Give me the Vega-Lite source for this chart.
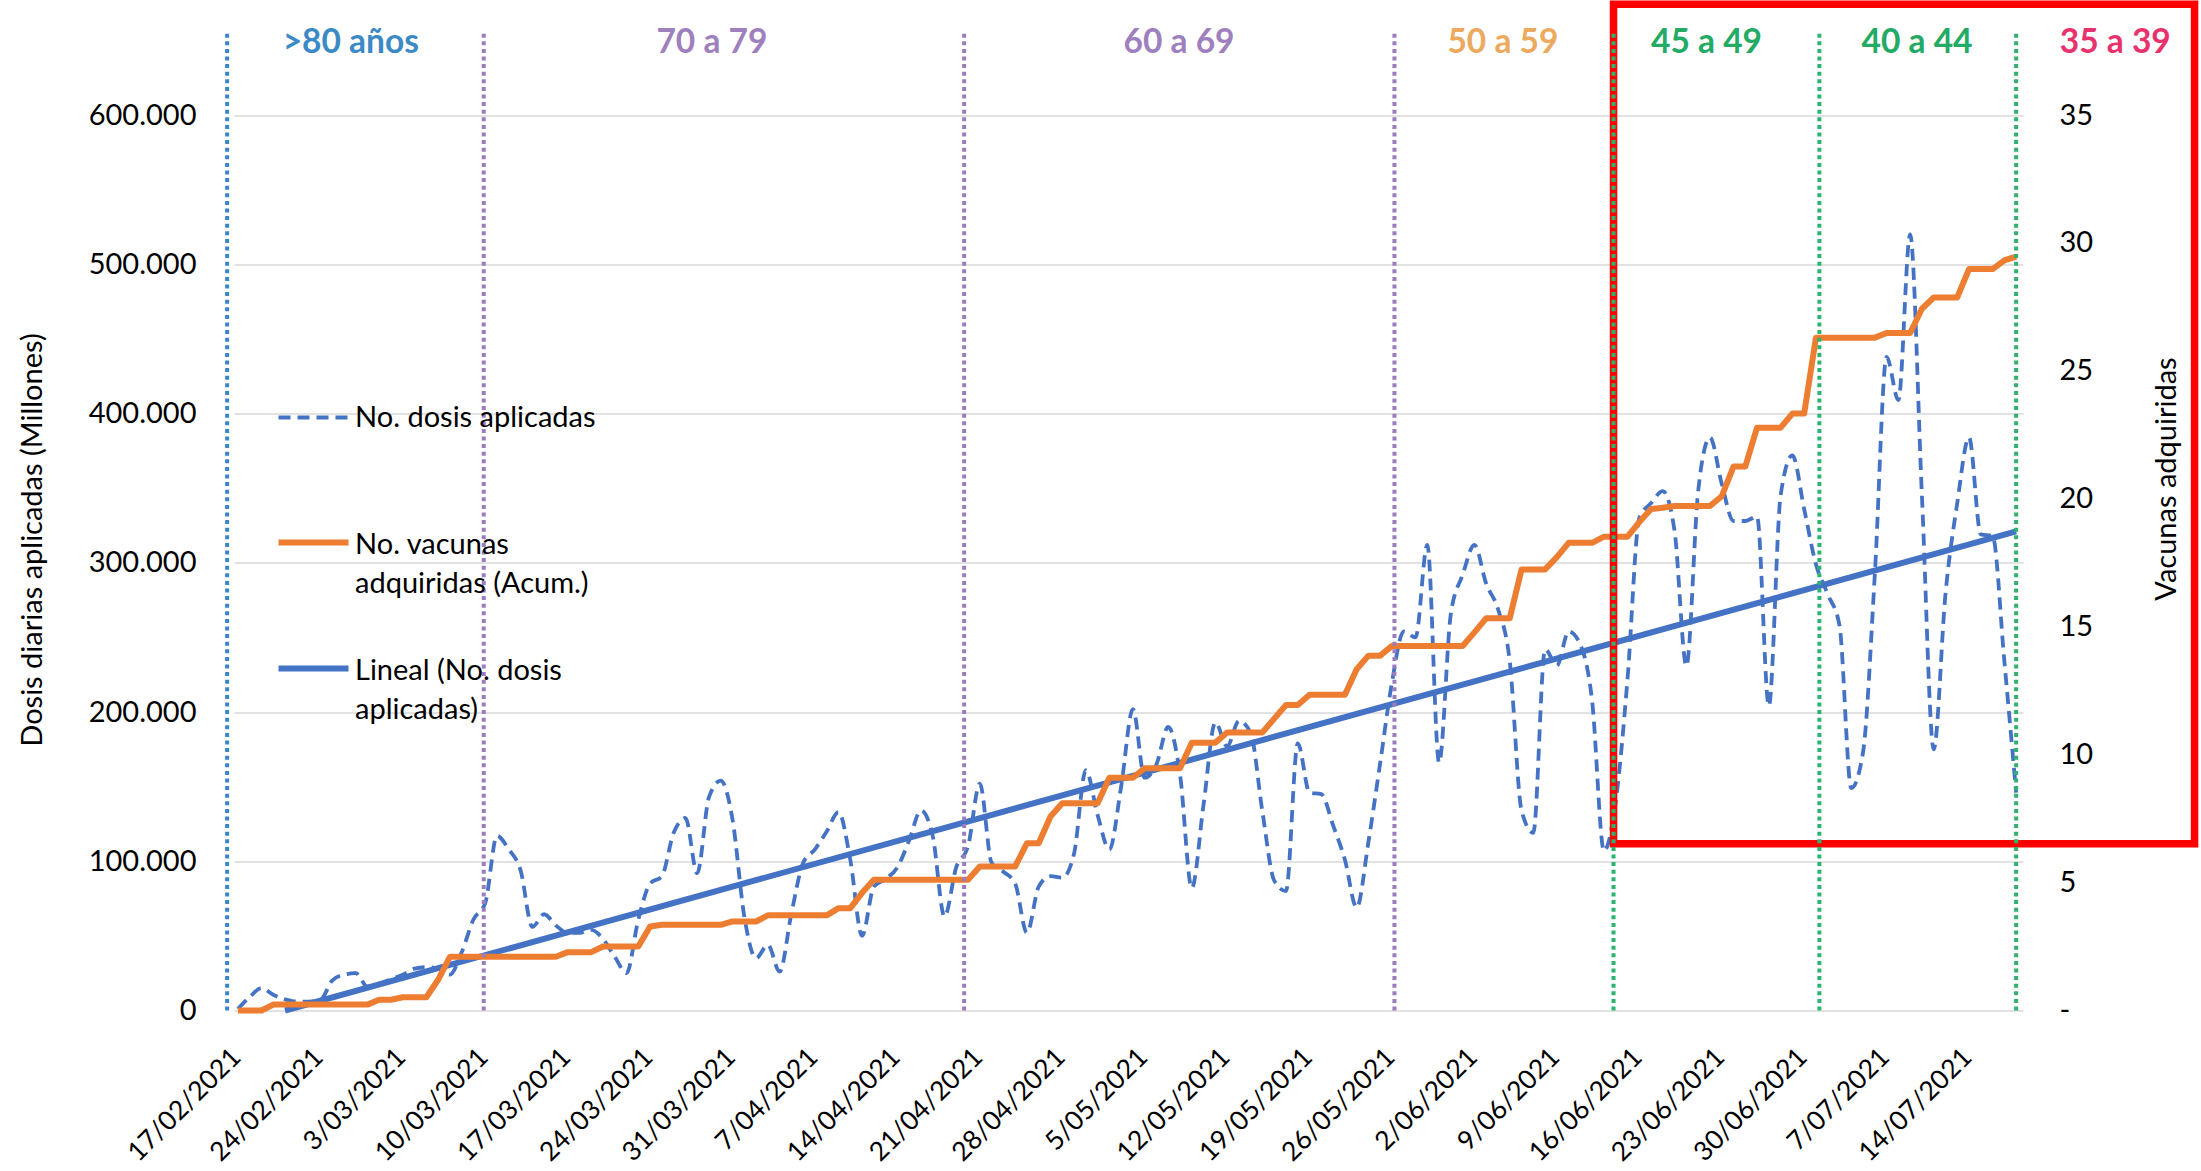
{
  "$schema": "https://vega.github.io/schema/vega-lite/v6.json",
  "width": 1789,
  "height": 985,
  "autosize": {"type": "none"},
  "padding": {"left": 234, "top": 25.5, "right": 178, "bottom": 160.5},
  "background": "#ffffff",
  "config": {
    "view": {"stroke": null},
    "font": "Lato",
    "axis": {"labelFont": "Lato", "labelFontSize": 29, "labelColor": "#000000", "titleFont": "Lato", "titleFontSize": 29, "titleFontWeight": "normal", "titleColor": "#000000", "domain": false, "ticks": false},
    "legend": {"labelFont": "Lato", "labelFontSize": 29, "labelColor": "#000000", "padding": 0, "symbolType": "stroke", "symbolSize": 4900, "labelLimit": 0}
  },
  "datasets": {
    "diario": [
      {"fecha": "2021-02-17T00:00", "dosis": 1000, "vacunas": 0},
      {"fecha": "2021-02-18T00:00", "dosis": 9000, "vacunas": 0},
      {"fecha": "2021-02-19T00:00", "dosis": 15000, "vacunas": 0},
      {"fecha": "2021-02-20T00:00", "dosis": 10500, "vacunas": 0.23},
      {"fecha": "2021-02-21T00:00", "dosis": 7500, "vacunas": 0.23},
      {"fecha": "2021-02-22T00:00", "dosis": 6000, "vacunas": 0.23},
      {"fecha": "2021-02-23T00:00", "dosis": 6000, "vacunas": 0.23},
      {"fecha": "2021-02-24T00:00", "dosis": 7000, "vacunas": 0.23},
      {"fecha": "2021-02-25T00:00", "dosis": 20000, "vacunas": 0.23},
      {"fecha": "2021-02-26T00:00", "dosis": 24000, "vacunas": 0.23},
      {"fecha": "2021-02-27T00:00", "dosis": 25000, "vacunas": 0.23},
      {"fecha": "2021-02-28T00:00", "dosis": 16000, "vacunas": 0.23},
      {"fecha": "2021-03-01T00:00", "dosis": 18000, "vacunas": 0.42},
      {"fecha": "2021-03-02T00:00", "dosis": 21000, "vacunas": 0.42},
      {"fecha": "2021-03-03T00:00", "dosis": 24000, "vacunas": 0.52},
      {"fecha": "2021-03-04T00:00", "dosis": 28000, "vacunas": 0.52},
      {"fecha": "2021-03-05T00:00", "dosis": 29000, "vacunas": 0.52},
      {"fecha": "2021-03-06T00:00", "dosis": 28000, "vacunas": 1.2},
      {"fecha": "2021-03-07T00:00", "dosis": 24000, "vacunas": 2.1},
      {"fecha": "2021-03-08T00:00", "dosis": 39000, "vacunas": 2.1},
      {"fecha": "2021-03-09T00:00", "dosis": 61000, "vacunas": 2.1},
      {"fecha": "2021-03-10T00:00", "dosis": 72000, "vacunas": 2.1},
      {"fecha": "2021-03-11T00:00", "dosis": 117000, "vacunas": 2.1},
      {"fecha": "2021-03-12T00:00", "dosis": 108000, "vacunas": 2.1},
      {"fecha": "2021-03-13T00:00", "dosis": 94000, "vacunas": 2.1},
      {"fecha": "2021-03-14T00:00", "dosis": 56000, "vacunas": 2.1},
      {"fecha": "2021-03-15T00:00", "dosis": 64500, "vacunas": 2.1},
      {"fecha": "2021-03-16T00:00", "dosis": 57000, "vacunas": 2.1},
      {"fecha": "2021-03-17T00:00", "dosis": 52000, "vacunas": 2.28},
      {"fecha": "2021-03-18T00:00", "dosis": 52000, "vacunas": 2.28},
      {"fecha": "2021-03-19T00:00", "dosis": 54000, "vacunas": 2.28},
      {"fecha": "2021-03-20T00:00", "dosis": 48000, "vacunas": 2.5},
      {"fecha": "2021-03-21T00:00", "dosis": 36000, "vacunas": 2.5},
      {"fecha": "2021-03-22T00:00", "dosis": 25000, "vacunas": 2.5},
      {"fecha": "2021-03-23T00:00", "dosis": 61000, "vacunas": 2.5},
      {"fecha": "2021-03-24T00:00", "dosis": 85000, "vacunas": 3.28},
      {"fecha": "2021-03-25T00:00", "dosis": 90000, "vacunas": 3.35},
      {"fecha": "2021-03-26T00:00", "dosis": 119000, "vacunas": 3.35},
      {"fecha": "2021-03-27T00:00", "dosis": 129000, "vacunas": 3.35},
      {"fecha": "2021-03-28T00:00", "dosis": 92000, "vacunas": 3.35},
      {"fecha": "2021-03-29T00:00", "dosis": 143000, "vacunas": 3.35},
      {"fecha": "2021-03-30T00:00", "dosis": 154000, "vacunas": 3.35},
      {"fecha": "2021-03-31T00:00", "dosis": 128000, "vacunas": 3.48},
      {"fecha": "2021-04-01T00:00", "dosis": 63000, "vacunas": 3.48},
      {"fecha": "2021-04-02T00:00", "dosis": 35000, "vacunas": 3.48},
      {"fecha": "2021-04-03T00:00", "dosis": 44000, "vacunas": 3.72},
      {"fecha": "2021-04-04T00:00", "dosis": 26000, "vacunas": 3.72},
      {"fecha": "2021-04-05T00:00", "dosis": 65000, "vacunas": 3.72},
      {"fecha": "2021-04-06T00:00", "dosis": 99000, "vacunas": 3.72},
      {"fecha": "2021-04-07T00:00", "dosis": 108000, "vacunas": 3.72},
      {"fecha": "2021-04-08T00:00", "dosis": 120000, "vacunas": 3.72},
      {"fecha": "2021-04-09T00:00", "dosis": 133000, "vacunas": 4.0},
      {"fecha": "2021-04-10T00:00", "dosis": 101000, "vacunas": 4.0},
      {"fecha": "2021-04-11T00:00", "dosis": 50000, "vacunas": 4.6},
      {"fecha": "2021-04-12T00:00", "dosis": 83000, "vacunas": 5.11},
      {"fecha": "2021-04-13T00:00", "dosis": 88000, "vacunas": 5.11},
      {"fecha": "2021-04-14T00:00", "dosis": 96000, "vacunas": 5.11},
      {"fecha": "2021-04-15T00:00", "dosis": 114000, "vacunas": 5.11},
      {"fecha": "2021-04-16T00:00", "dosis": 134000, "vacunas": 5.11},
      {"fecha": "2021-04-17T00:00", "dosis": 117000, "vacunas": 5.11},
      {"fecha": "2021-04-18T00:00", "dosis": 63000, "vacunas": 5.11},
      {"fecha": "2021-04-19T00:00", "dosis": 96000, "vacunas": 5.11},
      {"fecha": "2021-04-20T00:00", "dosis": 110000, "vacunas": 5.11},
      {"fecha": "2021-04-21T00:00", "dosis": 152000, "vacunas": 5.63},
      {"fecha": "2021-04-22T00:00", "dosis": 99000, "vacunas": 5.63},
      {"fecha": "2021-04-23T00:00", "dosis": 93000, "vacunas": 5.63},
      {"fecha": "2021-04-24T00:00", "dosis": 85000, "vacunas": 5.63},
      {"fecha": "2021-04-25T00:00", "dosis": 52000, "vacunas": 6.54},
      {"fecha": "2021-04-26T00:00", "dosis": 83000, "vacunas": 6.54},
      {"fecha": "2021-04-27T00:00", "dosis": 90000, "vacunas": 7.58},
      {"fecha": "2021-04-28T00:00", "dosis": 89000, "vacunas": 8.1},
      {"fecha": "2021-04-29T00:00", "dosis": 105000, "vacunas": 8.1},
      {"fecha": "2021-04-30T00:00", "dosis": 161000, "vacunas": 8.1},
      {"fecha": "2021-05-01T00:00", "dosis": 131000, "vacunas": 8.1},
      {"fecha": "2021-05-02T00:00", "dosis": 108000, "vacunas": 9.1},
      {"fecha": "2021-05-03T00:00", "dosis": 150000, "vacunas": 9.1},
      {"fecha": "2021-05-04T00:00", "dosis": 202000, "vacunas": 9.1},
      {"fecha": "2021-05-05T00:00", "dosis": 156000, "vacunas": 9.47},
      {"fecha": "2021-05-06T00:00", "dosis": 165000, "vacunas": 9.47},
      {"fecha": "2021-05-07T00:00", "dosis": 190000, "vacunas": 9.47},
      {"fecha": "2021-05-08T00:00", "dosis": 158000, "vacunas": 9.47},
      {"fecha": "2021-05-09T00:00", "dosis": 82000, "vacunas": 10.47},
      {"fecha": "2021-05-10T00:00", "dosis": 138000, "vacunas": 10.47},
      {"fecha": "2021-05-11T00:00", "dosis": 193000, "vacunas": 10.47},
      {"fecha": "2021-05-12T00:00", "dosis": 177000, "vacunas": 10.87},
      {"fecha": "2021-05-13T00:00", "dosis": 194000, "vacunas": 10.87},
      {"fecha": "2021-05-14T00:00", "dosis": 186000, "vacunas": 10.87},
      {"fecha": "2021-05-15T00:00", "dosis": 133000, "vacunas": 10.87},
      {"fecha": "2021-05-16T00:00", "dosis": 87000, "vacunas": 11.41},
      {"fecha": "2021-05-17T00:00", "dosis": 80000, "vacunas": 11.94},
      {"fecha": "2021-05-18T00:00", "dosis": 179000, "vacunas": 11.94},
      {"fecha": "2021-05-19T00:00", "dosis": 146000, "vacunas": 12.34},
      {"fecha": "2021-05-20T00:00", "dosis": 145000, "vacunas": 12.34},
      {"fecha": "2021-05-21T00:00", "dosis": 124000, "vacunas": 12.34},
      {"fecha": "2021-05-22T00:00", "dosis": 101000, "vacunas": 12.34},
      {"fecha": "2021-05-23T00:00", "dosis": 69000, "vacunas": 13.34},
      {"fecha": "2021-05-24T00:00", "dosis": 113000, "vacunas": 13.87},
      {"fecha": "2021-05-25T00:00", "dosis": 166000, "vacunas": 13.87},
      {"fecha": "2021-05-26T00:00", "dosis": 220000, "vacunas": 14.25},
      {"fecha": "2021-05-27T00:00", "dosis": 254000, "vacunas": 14.25},
      {"fecha": "2021-05-28T00:00", "dosis": 250000, "vacunas": 14.25},
      {"fecha": "2021-05-29T00:00", "dosis": 312000, "vacunas": 14.25},
      {"fecha": "2021-05-30T00:00", "dosis": 166000, "vacunas": 14.25},
      {"fecha": "2021-05-31T00:00", "dosis": 266000, "vacunas": 14.25},
      {"fecha": "2021-06-01T00:00", "dosis": 292000, "vacunas": 14.25},
      {"fecha": "2021-06-02T00:00", "dosis": 312000, "vacunas": 14.78},
      {"fecha": "2021-06-03T00:00", "dosis": 286000, "vacunas": 15.33},
      {"fecha": "2021-06-04T00:00", "dosis": 269000, "vacunas": 15.33},
      {"fecha": "2021-06-05T00:00", "dosis": 234000, "vacunas": 15.33},
      {"fecha": "2021-06-06T00:00", "dosis": 134000, "vacunas": 17.24},
      {"fecha": "2021-06-07T00:00", "dosis": 119000, "vacunas": 17.24},
      {"fecha": "2021-06-08T00:00", "dosis": 242000, "vacunas": 17.24},
      {"fecha": "2021-06-09T00:00", "dosis": 231000, "vacunas": 17.72},
      {"fecha": "2021-06-10T00:00", "dosis": 254000, "vacunas": 18.28},
      {"fecha": "2021-06-11T00:00", "dosis": 245000, "vacunas": 18.28},
      {"fecha": "2021-06-12T00:00", "dosis": 207000, "vacunas": 18.28},
      {"fecha": "2021-06-13T00:00", "dosis": 107000, "vacunas": 18.52},
      {"fecha": "2021-06-14T00:00", "dosis": 140000, "vacunas": 18.52},
      {"fecha": "2021-06-15T00:00", "dosis": 222000, "vacunas": 18.52},
      {"fecha": "2021-06-16T00:00", "dosis": 330000, "vacunas": 19.09},
      {"fecha": "2021-06-17T00:00", "dosis": 340000, "vacunas": 19.6},
      {"fecha": "2021-06-18T00:00", "dosis": 348000, "vacunas": 19.65},
      {"fecha": "2021-06-19T00:00", "dosis": 321000, "vacunas": 19.72},
      {"fecha": "2021-06-20T00:00", "dosis": 231000, "vacunas": 19.72},
      {"fecha": "2021-06-21T00:00", "dosis": 348000, "vacunas": 19.72},
      {"fecha": "2021-06-22T00:00", "dosis": 384000, "vacunas": 19.72},
      {"fecha": "2021-06-23T00:00", "dosis": 353000, "vacunas": 20.1},
      {"fecha": "2021-06-24T00:00", "dosis": 328000, "vacunas": 21.26},
      {"fecha": "2021-06-25T00:00", "dosis": 328000, "vacunas": 21.26},
      {"fecha": "2021-06-26T00:00", "dosis": 331000, "vacunas": 22.78},
      {"fecha": "2021-06-27T00:00", "dosis": 204000, "vacunas": 22.78},
      {"fecha": "2021-06-28T00:00", "dosis": 345000, "vacunas": 22.78},
      {"fecha": "2021-06-29T00:00", "dosis": 372000, "vacunas": 23.33},
      {"fecha": "2021-06-30T00:00", "dosis": 336000, "vacunas": 23.33},
      {"fecha": "2021-07-01T00:00", "dosis": 299000, "vacunas": 26.3},
      {"fecha": "2021-07-02T00:00", "dosis": 279000, "vacunas": 26.3},
      {"fecha": "2021-07-03T00:00", "dosis": 258000, "vacunas": 26.3},
      {"fecha": "2021-07-04T00:00", "dosis": 149000, "vacunas": 26.3},
      {"fecha": "2021-07-05T00:00", "dosis": 173000, "vacunas": 26.3},
      {"fecha": "2021-07-06T00:00", "dosis": 292000, "vacunas": 26.3},
      {"fecha": "2021-07-07T00:00", "dosis": 438000, "vacunas": 26.48},
      {"fecha": "2021-07-08T00:00", "dosis": 409000, "vacunas": 26.48},
      {"fecha": "2021-07-09T00:00", "dosis": 520000, "vacunas": 26.48},
      {"fecha": "2021-07-10T00:00", "dosis": 345000, "vacunas": 27.43},
      {"fecha": "2021-07-11T00:00", "dosis": 175000, "vacunas": 27.87},
      {"fecha": "2021-07-12T00:00", "dosis": 279000, "vacunas": 27.87},
      {"fecha": "2021-07-13T00:00", "dosis": 340000, "vacunas": 27.87},
      {"fecha": "2021-07-14T00:00", "dosis": 384000, "vacunas": 28.98},
      {"fecha": "2021-07-15T00:00", "dosis": 319000, "vacunas": 28.98},
      {"fecha": "2021-07-16T00:00", "dosis": 318000, "vacunas": 28.98},
      {"fecha": "2021-07-17T00:00", "dosis": 234000, "vacunas": 29.32},
      {"fecha": "2021-07-18T00:00", "dosis": 146000, "vacunas": 29.47}
    ],
    "tendencia": [
      {"fecha": "2021-02-21T00:00", "valor": 0},
      {"fecha": "2021-07-18T00:00", "valor": 321000}
    ],
    "limites": [
      {"fecha": "2021-02-16T02:00", "limite": "Inicio >80 años"},
      {"fecha": "2021-03-09T21:00", "limite": "Inicio 70 a 79"},
      {"fecha": "2021-04-19T16:00", "limite": "Inicio 60 a 69"},
      {"fecha": "2021-05-26T05:00", "limite": "Inicio 50 a 59"},
      {"fecha": "2021-06-13T19:30", "limite": "Inicio 45 a 49"},
      {"fecha": "2021-07-01T07:00", "limite": "Inicio 40 a 44"},
      {"fecha": "2021-07-18T00:00", "limite": "Fin 40 a 44"}
    ],
    "grupos": [
      {"grupo": ">80 años", "centro": "2021-02-26T14:00"},
      {"grupo": "70 a 79", "centro": "2021-03-29T06:00"},
      {"grupo": "60 a 69", "centro": "2021-05-07T22:00"},
      {"grupo": "50 a 59", "centro": "2021-06-04T10:00"},
      {"grupo": "45 a 49", "centro": "2021-06-21T17:00"},
      {"grupo": "40 a 44", "centro": "2021-07-09T14:00"},
      {"grupo": "35 a 39", "centro": "2021-07-26T10:00"}
    ],
    "recuadro": [
      {"desde": "2021-06-13T19:30", "hasta": "2021-08-02T03:40", "minimo": 111700, "maximo": 674300}
    ]
  },
  "layer": [
    {
      "layer": [
        {
          "data": {"name": "diario"},
          "mark": {"type": "line", "strokeWidth": 3.8, "strokeDash": [12, 7], "interpolate": "monotone"},
          "encoding": {
            "x": {
              "field": "fecha", "type": "temporal",
              "scale": {"domain": [{"year": 2021, "month": 2, "date": 16, "hours": 16}, {"year": 2021, "month": 7, "date": 18, "hours": 14}]},
              "axis": {
                "title": null,
                "values": [
                  {"year": 2021, "month": 2, "date": 17}, {"year": 2021, "month": 2, "date": 24},
                  {"year": 2021, "month": 3, "date": 3}, {"year": 2021, "month": 3, "date": 10},
                  {"year": 2021, "month": 3, "date": 17}, {"year": 2021, "month": 3, "date": 24},
                  {"year": 2021, "month": 3, "date": 31}, {"year": 2021, "month": 4, "date": 7},
                  {"year": 2021, "month": 4, "date": 14}, {"year": 2021, "month": 4, "date": 21},
                  {"year": 2021, "month": 4, "date": 28}, {"year": 2021, "month": 5, "date": 5},
                  {"year": 2021, "month": 5, "date": 12}, {"year": 2021, "month": 5, "date": 19},
                  {"year": 2021, "month": 5, "date": 26}, {"year": 2021, "month": 6, "date": 2},
                  {"year": 2021, "month": 6, "date": 9}, {"year": 2021, "month": 6, "date": 16},
                  {"year": 2021, "month": 6, "date": 23}, {"year": 2021, "month": 6, "date": 30},
                  {"year": 2021, "month": 7, "date": 7}, {"year": 2021, "month": 7, "date": 14}
                ],
                "format": "%-d/%m/%Y",
                "labelFontSize": 26.5,
                "labelAngle": -45, "labelAlign": "right", "labelBaseline": "top",
                "labelPadding": 33, "labelOffset": -11, "grid": false,
                "labelOverlap": false, "labelFlush": false, "labelBound": false
              }
            },
            "y": {
              "field": "dosis", "type": "quantitative",
              "scale": {"domain": [0, 660000], "nice": false},
              "axis": {
                "orient": "left", "title": "Dosis diarias aplicadas (Millones)",
                "values": [0, 100000, 200000, 300000, 400000, 500000, 600000],
                "labelExpr": "replace(format(datum.value, ','), ',', '.')",
                "labelPadding": 38, "grid": true, "gridColor": "#D9D9D9", "gridWidth": 1.5,
                "titleX": -202, "titleY": 514, "titleAngle": 270, "titleAlign": "center", "titleBaseline": "middle"
              }
            },
            "color": {
              "datum": "No. dosis aplicadas",
              "scale": {"range": ["#4472C4"]},
              "legend": {
                "title": null, "orient": "none", "legendX": 42.5, "legendY": 355, "symbolStrokeWidth": 3.8, "symbolDash": [12, 7], "labelOffset": 4.5, "labelBaseline": "middle",
                "encoding": {"symbols": {"strokeWidth": {"value": 3.8}, "strokeDash": {"value": [12, 7]}}}
              }
            }
          }
        },
        {
          "data": {"name": "tendencia"},
          "mark": {"type": "line", "strokeWidth": 6},
          "encoding": {
            "x": {"field": "fecha", "type": "temporal"},
            "y": {"field": "valor", "type": "quantitative"},
            "color": {
              "datum": "Lineal (No. dosis aplicadas)",
              "scale": {"range": ["#4472C4"]},
              "legend": {
                "title": null, "orient": "none", "legendX": 41.5, "legendY": 605, "symbolStrokeWidth": 6,
                "labelOffset": 3.5, "labelBaseline": "top",
                "labelExpr": "['Lineal (No. dosis', 'aplicadas)']",
                "encoding": {"labels": {"dy": {"value": -12}, "lineHeight": {"value": 39}}, "symbols": {"strokeWidth": {"value": 6}}}
              }
            }
          }
        }
      ],
      "resolve": {"scale": {"color": "independent"}, "legend": {"color": "independent"}}
    },
    {
      "data": {"name": "diario"},
      "mark": {"type": "line", "strokeWidth": 6, "strokeJoin": "round"},
      "encoding": {
        "x": {"field": "fecha", "type": "temporal"},
        "y": {
          "field": "vacunas", "type": "quantitative",
          "scale": {"domain": [0, 38.5], "nice": false},
          "axis": {
            "orient": "right", "title": "Vacunas adquiridas",
            "values": [0, 5, 10, 15, 20, 25, 30, 35],
            "labelExpr": "datum.value == 0 ? '-' : datum.label",
            "labelPadding": 36, "grid": false,
            "titleX": 143.7, "titleY": 453, "titleAngle": 270, "titleAlign": "center", "titleBaseline": "middle"
          }
        },
        "color": {
          "datum": "No. vacunas adquiridas (Acum.)",
          "scale": {"range": ["#ED7D31"]},
          "legend": {
            "title": null, "orient": "none", "legendX": 41.5, "legendY": 479, "symbolStrokeWidth": 6,
            "labelOffset": 3.5, "labelBaseline": "top",
            "labelExpr": "['No. vacunas', 'adquiridas (Acum.)']",
            "encoding": {"labels": {"dy": {"value": -12}, "lineHeight": {"value": 39}}, "symbols": {"strokeWidth": {"value": 6}}}
          }
        }
      }
    },
    {
      "layer": [
        {
          "data": {"name": "recuadro", "format": {"parse": {"desde": "date:'%Y-%m-%dT%H:%M'", "hasta": "date:'%Y-%m-%dT%H:%M'"}}},
          "mark": {"type": "rect", "fill": "transparent", "stroke": "#FF0000", "strokeWidth": 7.5},
          "encoding": {
            "x": {"field": "desde", "type": "temporal"},
            "x2": {"field": "hasta"},
            "y": {"field": "minimo", "type": "quantitative", "scale": {"domain": [0, 660000], "nice": false}, "axis": null},
            "y2": {"field": "maximo"}
          }
        },
        {
          "data": {"name": "limites", "format": {"parse": {"fecha": "date:'%Y-%m-%dT%H:%M'"}}},
          "mark": {"type": "rule", "strokeWidth": 4, "strokeDash": [4, 3.6]},
          "encoding": {
            "x": {"field": "fecha", "type": "temporal"},
            "y": {"datum": 0, "type": "quantitative", "axis": null},
            "y2": {"datum": 656000},
            "color": {
              "field": "limite", "type": "nominal", "legend": null,
              "scale": {
                "domain": ["Inicio >80 años", "Inicio 70 a 79", "Inicio 60 a 69", "Inicio 50 a 59", "Inicio 45 a 49", "Inicio 40 a 44", "Fin 40 a 44"],
                "range": ["#3A86C8", "#9B7DBF", "#9B7DBF", "#9B7DBF", "#2CB46E", "#2CB46E", "#2CB46E"]
              }
            }
          }
        },
        {
          "data": {"name": "grupos", "format": {"parse": {"centro": "date:'%Y-%m-%dT%H:%M'"}}},
          "mark": {"type": "text", "font": "Lato", "fontWeight": "bold", "fontSize": 33.5, "baseline": "alphabetic", "align": "center"},
          "encoding": {
            "x": {"field": "centro", "type": "temporal"},
            "y": {"datum": 641400, "type": "quantitative", "axis": null},
            "text": {"field": "grupo"},
            "color": {
              "field": "grupo", "type": "nominal", "legend": null,
              "scale": {
                "domain": [">80 años", "70 a 79", "60 a 69", "50 a 59", "45 a 49", "40 a 44", "35 a 39"],
                "range": ["#3C8AC5", "#9E80BE", "#9E80BE", "#ECAA5F", "#23AA64", "#23AA64", "#E8326E"]
              }
            }
          }
        }
      ],
      "resolve": {"scale": {"color": "independent"}}
    }
  ],
  "resolve": {"scale": {"y": "independent", "color": "independent"}, "legend": {"color": "independent"}}
}
